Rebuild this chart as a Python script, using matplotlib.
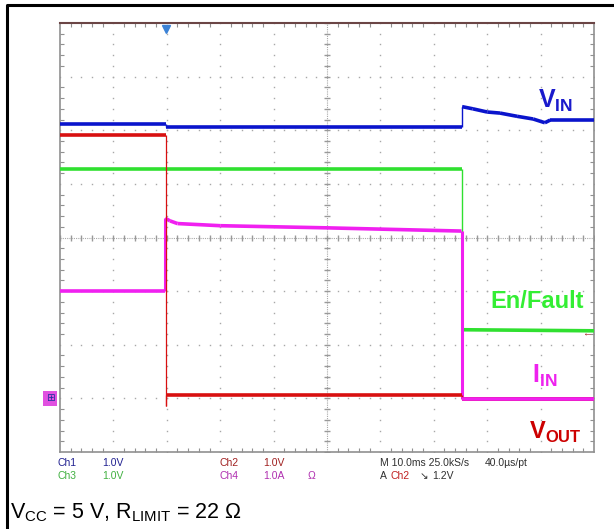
import matplotlib.pyplot as plt
import numpy as np
from matplotlib.collections import LineCollection
from matplotlib.lines import Line2D

plt.rcParams['font.family'] = ['Liberation Sans', 'DejaVu Sans']
plt.rcParams['mathtext.fontset'] = 'custom'
plt.rcParams['mathtext.rm'] = 'Liberation Sans'
plt.rcParams['mathtext.bf'] = 'Liberation Sans:bold'

# time in ms (10 ms/div, trigger at 0), values in V / A, all grounds at 1 div
ground = 1.0

vin_t = [-20, -0.2, -0.2, 55.3, 55.3, 57.3, 60.0, 62.4, 65.6, 68.6, 70.8, 71.8, 80]
vin_v = [5.12, 5.12, 5.06, 5.06, 5.44, 5.40, 5.34, 5.32, 5.26, 5.21, 5.14, 5.19, 5.19]

vout_t = [-20, -0.2, -0.2, -0.2, 55.3, 55.3, 80]
vout_v = [4.92, 4.92, -0.14, 0.06, 0.06, -0.01, -0.01]

en_t = [-20, 55.3, 55.3, 80]
en_v = [4.28, 4.28, 1.28, 1.26]

iin_t = [-20, -0.3, -0.3, 0.6, 2.0, 10.0, 30.0, 55.2, 55.2, 80]
iin_v = [2.0, 2.0, 3.36, 3.31, 3.26, 3.22, 3.18, 3.12, -0.01, -0.01]

grid_color = '#a8a8a8'


def draw_trace(ax, t, v, color, z, edge_w=1.0):
    y = np.asarray(v) + ground
    segs = [[(t[i], y[i]), (t[i + 1], y[i + 1])] for i in range(len(t) - 1)]
    widths = [edge_w if t[i] == t[i + 1] else 2.6 for i in range(len(t) - 1)]
    lc = LineCollection(segs, colors=color, linewidths=widths, zorder=z,
                        capstyle='butt', joinstyle='miter')
    ax.add_collection(lc)


fig = plt.figure(figsize=(6.14, 5.29), dpi=100)
ax = fig.add_axes([60 / 614, 77 / 529, 534 / 614, 429 / 529])
ax.set_xlim(-20, 80)
ax.set_ylim(0, 8)

# dotted graticule
fine_x = np.arange(-20, 80.01, 2)
fine_y = np.arange(0, 8.001, 0.2)
for gx in np.arange(-10, 71, 10):
    if gx != 30:
        ax.plot(np.full_like(fine_y, gx), fine_y, ls='none', marker='s', ms=1.0,
                mec='none', mfc=grid_color, zorder=1)
for gy in range(1, 8):
    if gy != 4:
        ax.plot(fine_x, np.full_like(fine_x, gy), ls='none', marker='s', ms=1.0,
                mec='none', mfc=grid_color, zorder=1)

# centre cross with ticks
ax.axvline(30, color=grid_color, lw=0.8, ls=(0, (1, 1)), zorder=1)
ax.axhline(4, color=grid_color, lw=0.8, ls=(0, (1, 1)), zorder=1)
ax.plot(np.full_like(fine_y, 30), fine_y, ls='none', marker='_', ms=5, mew=1.0,
        color='#999999', zorder=1)
ax.plot(fine_x, np.full_like(fine_x, 4), ls='none', marker='|', ms=5, mew=1.0,
        color='#999999', zorder=1)

ax.set_xticks(np.arange(-20, 81, 10))
ax.set_yticks(np.arange(0, 9, 1))
ax.set_xticks(fine_x, minor=True)
ax.set_yticks(fine_y, minor=True)
ax.tick_params(which='both', direction='in', top=True, right=True,
               labelleft=False, labelbottom=False, color='#909090')
ax.tick_params(which='major', length=0)
ax.tick_params(which='minor', length=3, width=0.8)
for side in ['left', 'right', 'bottom']:
    ax.spines[side].set_color('#909090')
    ax.spines[side].set_linewidth(1.2)
ax.spines['top'].set_color('#6b4545')
ax.spines['top'].set_linewidth(1.5)

draw_trace(ax, en_t, en_v, '#30e030', 3)
draw_trace(ax, iin_t, iin_v, '#f020f0', 4, edge_w=2.2)
draw_trace(ax, vout_t, vout_v, '#d81010', 5, edge_w=0.9)
draw_trace(ax, vin_t, vin_v, '#0a14cc', 6)
# after the fault IIN is drawn over VOUT
draw_trace(ax, iin_t[-2:], iin_v[-2:], '#f020f0', 5.5)

# markers
ax.plot([-0.2], [7.88], marker='v', ms=6, color='#3b82d6', clip_on=False, zorder=7)
ax.text(-21.0, ground, '⊞', fontsize=7.5, color='#2030a0', ha='right', va='center',
        bbox=dict(boxstyle='square,pad=0.25', fc='#e050e0', ec='none'), clip_on=False)
ax.text(79.5, 2.22, '←', fontsize=7, color='#a02020', ha='right', va='center')

# trace labels
fig.text(556 / 614, 1 - 101 / 529, r'$\mathbf{V}_{\mathbf{IN}}$', fontsize=18,
         color='#1a1acc', ha='center', va='center')
fig.text(537 / 614, 1 - 302 / 529, 'En/Fault', fontsize=17, fontweight='bold',
         color='#33ee33', ha='center', va='center')
fig.text(545 / 614, 1 - 376 / 529, r'$\mathbf{I}_{\mathbf{IN}}$', fontsize=18,
         color='#ee22ee', ha='center', va='center')
fig.text(555 / 614, 1 - 432 / 529, r'$\mathbf{V}_{\mathbf{OUT}}$', fontsize=17,
         color='#cc0000', ha='center', va='center')

# scope settings readout
info = [
    (57, 463, 'Ch1', '#202090'), (102, 463, '1.0V', '#202090'),
    (220, 463, 'Ch2', '#a02020'), (263, 463, '1.0V', '#a02020'),
    (380, 463, 'M 10.0ms 25.0kS/s', '#303030'), (485, 463, '40.0µs/pt', '#303030'),
    (57, 476, 'Ch3', '#40b040'), (102, 476, '1.0V', '#40b040'),
    (220, 476, 'Ch4', '#b030b0'), (263, 476, '1.0A', '#b030b0'),
    (308, 476, 'Ω', '#b030b0'),
    (380, 476, 'A', '#303030'), (391, 476, 'Ch2', '#c02020'),
    (420, 476, '↘', '#303030'), (432, 476, '1.2V', '#303030'),
]
for x, y, s, c in info:
    fig.text(x / 614, 1 - y / 529, s, fontsize=7.5, color=c, ha='left', va='center',
             family=['Liberation Sans Narrow', 'Liberation Sans', 'DejaVu Sans'])

fig.text(10 / 614, 1 - 513 / 529, r'V$_{\rm CC}$ = 5 V, R$_{\rm LIMIT}$ = 22 Ω',
         fontsize=15.5, color='black', ha='left', va='center')

# outer frame (left and top edges)
fig.add_artist(Line2D([7 / 614, 7 / 614, 1], [0, 1 - 5 / 529, 1 - 5 / 529],
                      transform=fig.transFigure, color='black', lw=2.2))

fig.savefig('out.png', dpi=100)
